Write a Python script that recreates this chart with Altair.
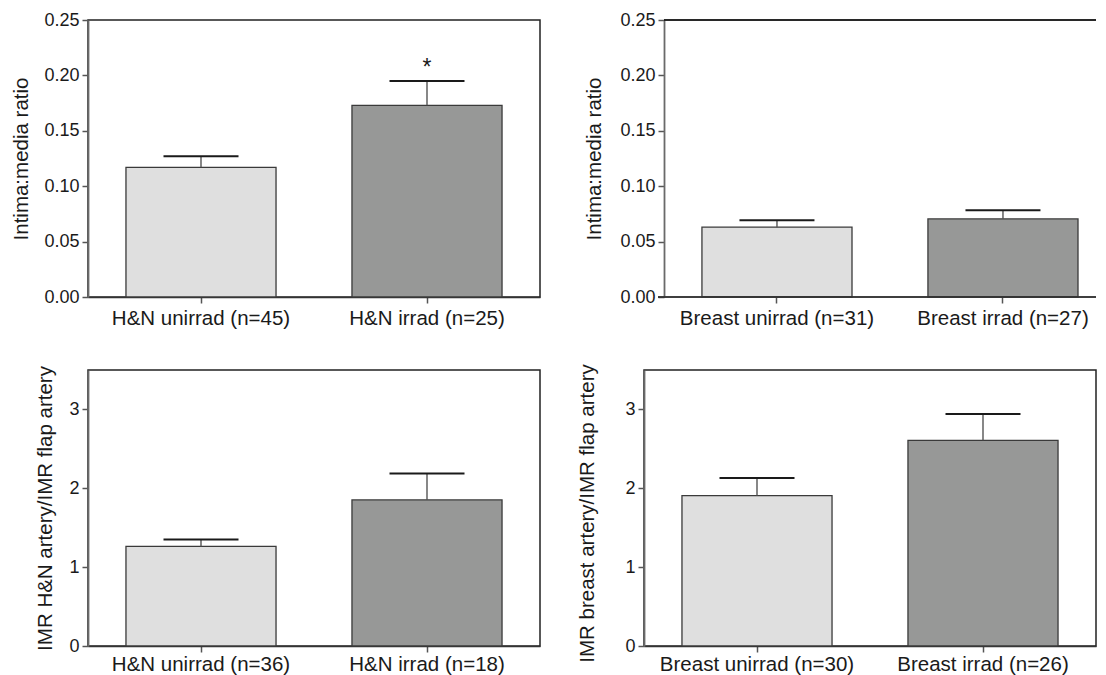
import altair as alt
import pandas as pd

# ---- data ----
tl_groups = ["H&N unirrad (n=45)", "H&N irrad (n=25)"]
tl_means = [0.117, 0.173]
tl_upper = [0.127, 0.195]

tr_groups = ["Breast unirrad (n=31)", "Breast irrad (n=27)"]
tr_means = [0.063, 0.0705]
tr_upper = [0.0693, 0.0783]

bl_groups = ["H&N unirrad (n=36)", "H&N irrad (n=18)"]
bl_means = [1.263, 1.852]
bl_upper = [1.352, 2.186]

br_groups = ["Breast unirrad (n=30)", "Breast irrad (n=26)"]
br_means = [1.907, 2.608]
br_upper = [2.131, 2.941]

status = ["unirrad", "irrad"]

star_group = ["H&N irrad (n=25)"]
star_y = [0.200]
star_text = ["*"]

FONT = "Liberation Sans"
W = 452


def panel(groups, means, upper, ydomain, yvalues, yfmt, ytitle, height,
          title_pad, width=W, title_y=None, star=None, shift=0, xlab_pad=5):
    df = pd.DataFrame({"group": groups, "mean": means, "upper": upper, "status": status})
    if shift:
        xscale = alt.Scale(paddingInner=0.336, paddingOuter=0.168, align=0.763)
    else:
        xscale = alt.Scale(paddingInner=0.336, paddingOuter=0.168)
    x = alt.X("group:N", sort=groups, title=None, scale=xscale,
              axis=alt.Axis(labelAngle=0, labelFontSize=20.5, labelFont=FONT,
                            labelColor="#1a1a1a", labelPadding=xlab_pad, tickSize=6,
                            labelLimit=400,
                            tickColor="#555555", tickWidth=1.5,
                            domain=(shift == 0),
                            domainColor="#333333", domainWidth=1.5, grid=False))
    yaxis_kw = dict(values=yvalues, format=yfmt, labelFontSize=18, labelFont=FONT,
                    labelColor="#1a1a1a", labelPadding=3, tickSize=6,
                    tickColor="#555555", tickWidth=1.5, domainColor="#6a6a6a",
                    domainWidth=1.8, grid=False, title=ytitle, titleFontSize=20.5,
                    titleFont=FONT, titleFontWeight="normal", titleColor="#1a1a1a",
                    titlePadding=title_pad)
    if shift:
        yaxis_kw["offset"] = -shift
    if title_y is not None:
        yaxis_kw["titleY"] = title_y
    y = alt.Y("mean:Q", scale=alt.Scale(domain=ydomain, nice=False, zero=True),
              axis=alt.Axis(**yaxis_kw))
    base = alt.Chart(df)
    bars = base.mark_bar(stroke="#3a3a3a", strokeWidth=1.3, opacity=1).encode(
        x=x, y=y,
        color=alt.Color("status:N", scale=alt.Scale(domain=status,
                        range=["#dfdfdf", "#979897"]), legend=None),
    )
    stem = base.mark_rule(color="#555555", strokeWidth=1.4).encode(
        x=alt.X("group:N", sort=groups), y="mean:Q", y2="upper:Q")
    cap = base.mark_tick(color="#1a1a1a", thickness=2, size=75, opacity=1).encode(
        x=alt.X("group:N", sort=groups), y="upper:Q")
    layers = [bars, stem, cap]
    if star is not None:
        sdf = pd.DataFrame({"group": star[0], "y": star[1], "t": star[2]})
        layers.append(alt.Chart(sdf).mark_text(fontSize=23, font=FONT, color="#1a1a1a",
                                               baseline="alphabetic").encode(
            x=alt.X("group:N", sort=groups), y="y:Q", text="t:N"))
    if shift:
        # frame lines (top border and x-axis baseline) starting at the shifted y axis
        top_line = base.mark_rule(color="#1a1a1a", strokeWidth=1.5).encode(
            x=alt.value(shift), x2=alt.value(width), y=alt.value(0))
        bottom_line = base.mark_rule(color="#333333", strokeWidth=1.5).encode(
            x=alt.value(shift - 6), x2=alt.value(width), y=alt.value(height))
        layers += [top_line, bottom_line]
        return alt.layer(*layers).properties(
            width=width, height=height,
            view=alt.ViewBackground(stroke="transparent"))
    return alt.layer(*layers).properties(width=width, height=height)


tl = panel(tl_groups, tl_means, tl_upper, [0, 0.25], [0, 0.05, 0.10, 0.15, 0.20, 0.25],
           ".2f", "Intima:media ratio", 277, 12, star=(star_group, star_y, star_text))
tr = panel(tr_groups, tr_means, tr_upper, [0, 0.25], [0, 0.05, 0.10, 0.15, 0.20, 0.25],
           ".2f", "Intima:media ratio", 277, 15, width=452, shift=20)
bl = panel(bl_groups, bl_means, bl_upper, [0, 3.5], [0, 1, 2, 3], "d",
           "IMR H&N artery/IMR flap artery", 276, 13, xlab_pad=2)
br = panel(br_groups, br_means, br_upper, [0, 3.5], [0, 1, 2, 3], "d",
           "IMR breast artery/IMR flap artery", 276, 27, title_y=143, xlab_pad=2)

chart = alt.concat(tl, tr, bl, br, columns=2, bounds="flush",
                   spacing={"row": 73, "column": 104}).properties(
    padding={"left": 3, "top": 2, "right": 0, "bottom": 0},
    background="white",
).configure_view(stroke="#222222", strokeWidth=1.5)

chart.save("out.html", embed_options={"renderer": "svg", "actions": False})
